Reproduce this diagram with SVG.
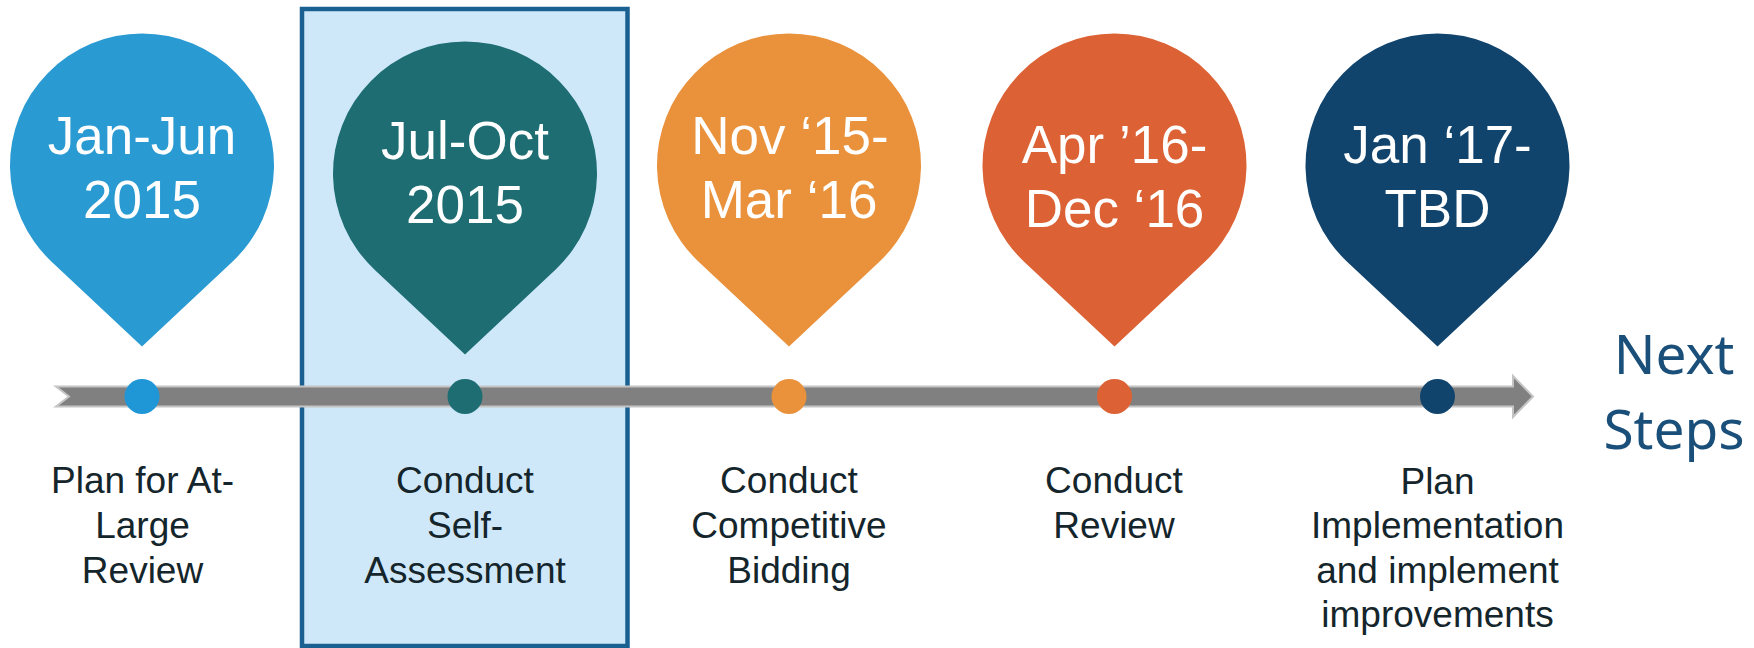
<svg xmlns="http://www.w3.org/2000/svg" xmlns:xlink="http://www.w3.org/1999/xlink" width="1754" height="648" viewBox="0 0 1754 648">
<style>
.date{font-family:"Liberation Sans",Arial,sans-serif;font-size:53px;fill:#ffffff;text-anchor:middle}
.lbl{font-family:"Liberation Sans",Arial,sans-serif;font-size:37px;fill:#14252b;text-anchor:middle}
.next{font-family:"Noto Sans","Open Sans",sans-serif;font-size:55px;fill:#1a4f7a;text-anchor:middle}
.dot{stroke:none}
</style>
<defs>
<path id="pin" d="M0,181 L-90.4,96.2 A132,132 0 1 1 90.4,96.2 Z"/>
</defs>
<rect id="highlight" x="302" y="9" width="325.5" height="637" fill="#cfe8f9" stroke="#1a6192" stroke-width="4.5"/>
<g id="connectors">
<polygon id="timeline" points="56,386.5 1513,386.5 1513,376 1533,396.5 1513,417 1513,406.5 56,406.5 69,396.5" fill="#808080" stroke="#c4c4c4" stroke-width="2" stroke-linejoin="miter"/>
</g>
<g id="node1">
<use xlink:href="#pin" x="142" y="165.5" fill="#2a9ad2"/>
<text class="date" x="142" y="154.3">Jan-Jun</text>
<text class="date" x="142" y="218.3">2015</text>
<circle class="dot" cx="142" cy="396.5" r="17.5" fill="#1f97d6"/>
<text class="lbl" x="142.5" y="493.3">Plan for At-</text>
<text class="lbl" x="142.5" y="538.3">Large</text>
<text class="lbl" x="142.5" y="583.3">Review</text>
</g>
<g id="node2">
<use xlink:href="#pin" x="465" y="173.5" fill="#1d6d72"/>
<text class="date" x="465" y="159.3">Jul-Oct</text>
<text class="date" x="465" y="222.7">2015</text>
<circle class="dot" cx="465" cy="396.5" r="17.5" fill="#1d6d72"/>
<text class="lbl" x="465" y="493.3">Conduct</text>
<text class="lbl" x="465" y="538.3">Self-</text>
<text class="lbl" x="465" y="583.3">Assessment</text>
</g>
<g id="node3">
<use xlink:href="#pin" x="789" y="165.5" fill="#ea913c"/>
<text class="date" x="790" y="154.3">Nov ‘15-</text>
<text class="date" x="789" y="218.3">Mar ‘16</text>
<circle class="dot" cx="789" cy="396.5" r="17.5" fill="#ea913c"/>
<text class="lbl" x="789" y="493.3">Conduct</text>
<text class="lbl" x="789" y="538.3">Competitive</text>
<text class="lbl" x="789" y="583.3">Bidding</text>
</g>
<g id="node4">
<use xlink:href="#pin" x="1114.5" y="165.5" fill="#dc6235"/>
<text class="date" x="1114.5" y="162.7">Apr ’16-</text>
<text class="date" x="1114.5" y="226.7">Dec ‘16</text>
<circle class="dot" cx="1114.5" cy="396.5" r="17.5" fill="#dc6235"/>
<text class="lbl" x="1114" y="493.3">Conduct</text>
<text class="lbl" x="1114" y="538.3">Review</text>
</g>
<g id="node5">
<use xlink:href="#pin" x="1437.5" y="165.5" fill="#11446d"/>
<text class="date" x="1437.5" y="162.7">Jan ‘17-</text>
<text class="date" x="1437.5" y="226.7">TBD</text>
<circle class="dot" cx="1437.5" cy="396.5" r="17.5" fill="#11446d"/>
<text class="lbl" x="1437.5" y="493.8">Plan</text>
<text class="lbl" x="1437.5" y="538.3">Implementation</text>
<text class="lbl" x="1437.5" y="583.3">and implement</text>
<text class="lbl" x="1437.5" y="627">improvements</text>
</g>
<g id="next-steps">
<text class="next" x="1674" y="374">Next</text>
<text class="next" x="1674" y="449">Steps</text>
</g>
</svg>
